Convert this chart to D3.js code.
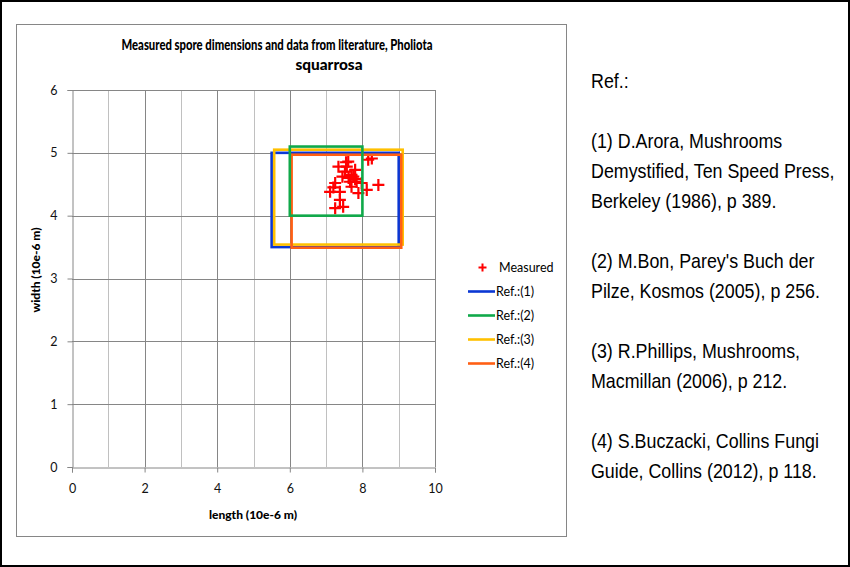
<!DOCTYPE html>
<html>
<head>
<meta charset="utf-8">
<script src="https://cdn.jsdelivr.net/npm/d3@7"></script>
<style>
  body { margin: 0; background: #fff; }
  svg { display: block; }
</style>
</head>
<body>
<script>
// measured spores (length, width in 10e-6 m)
var spLength = [7.34, 7.61, 7.52, 7.57, 7.80, 7.75, 7.84, 7.66, 7.70, 7.98, 7.25, 7.11, 7.38, 7.38,
                7.25, 7.47, 7.89, 8.12, 8.44, 8.16, 8.26, 7.70, 7.62, 7.80, 7.45, 7.20, 7.55];
var spWidth  = [4.78, 4.86, 4.70, 4.78, 4.73, 4.62, 4.54, 4.54, 4.46, 4.52, 4.52, 4.38, 4.38, 4.25,
                4.12, 4.14, 4.36, 4.41, 4.49, 4.89, 4.91, 4.65, 4.60, 4.58, 4.62, 4.45, 4.85];

// literature ranges
var refNames  = ["Ref.:(1)", "Ref.:(2)", "Ref.:(3)", "Ref.:(4)"];
var refLenMin = [5.5, 6.0, 5.57, 6.05];
var refLenMax = [9.0, 8.0, 9.11, 9.07];
var refWidMin = [3.5, 4.0, 3.54, 3.49];
var refWidMax = [5.0, 5.1, 5.05, 4.97];
var refColors = ["#0a37d4", "#10a94a", "#ffc000", "#ff5f14"];

var xTicks = [0, 2, 4, 6, 8, 10];
var yTicks = [0, 1, 2, 3, 4, 5, 6];

var refText = [
  "Ref.:",
  "",
  "(1) D.Arora, Mushrooms",
  "Demystified, Ten Speed Press,",
  "Berkeley (1986), p 389.",
  "",
  "(2) M.Bon, Parey's Buch der",
  "Pilze, Kosmos (2005), p 256.",
  "",
  "(3) R.Phillips, Mushrooms,",
  "Macmillan (2006), p 212.",
  "",
  "(4) S.Buczacki, Collins Fungi",
  "Guide, Collins (2012), p 118."
];

var W = 850, H = 567;
var svg = d3.select("body").append("svg").attr("width", W).attr("height", H);

// outer black border and chart frame
svg.append("rect").attr("x", 1).attr("y", 1).attr("width", W - 2).attr("height", H - 2)
   .attr("fill", "#fff").attr("stroke", "#000").attr("stroke-width", 2);
svg.append("rect").attr("x", 16.5).attr("y", 24.5).attr("width", 550).attr("height", 512)
   .attr("fill", "#fff").attr("stroke", "#868686").attr("stroke-width", 1);

var x = d3.scaleLinear().domain([0, 10]).range([72, 435]);
var y = d3.scaleLinear().domain([0, 6]).range([467, 90]);

var font = "Lato, 'Liberation Sans', sans-serif";

// grid
var grid = svg.append("g");
grid.selectAll("line.v").data(d3.range(1, 11)).enter().append("line")
    .attr("x1", function(d){ return Math.round(x(d)) + 0.5; })
    .attr("x2", function(d){ return Math.round(x(d)) + 0.5; })
    .attr("y1", y(6)).attr("y2", y(0))
    .attr("stroke", function(d){ return d % 2 ? "#c0c0c0" : "#868686"; });
grid.selectAll("line.h").data(d3.range(1, 7)).enter().append("line")
    .attr("x1", x(0)).attr("x2", x(10))
    .attr("y1", function(d){ return Math.round(y(d)) + 0.5; })
    .attr("y2", function(d){ return Math.round(y(d)) + 0.5; })
    .attr("stroke", "#868686");

// axes
var xAxis = d3.axisBottom(x).tickValues(xTicks).tickFormat(d3.format("d")).tickSize(5).tickPadding(12);
var yAxis = d3.axisLeft(y).tickValues(yTicks).tickFormat(d3.format("d")).tickSize(5).tickPadding(10);

var gx = svg.append("g").attr("transform", "translate(0," + (Math.round(y(0)) + 0.5) + ")").call(xAxis);
var gy = svg.append("g").attr("transform", "translate(" + (Math.round(x(0)) + 0.5) + ",0)").call(yAxis);
[gx, gy].forEach(function(g){
  g.select(".domain").attr("stroke", "#868686");
  g.selectAll(".tick line").attr("stroke", "#868686");
  g.selectAll(".tick text").attr("font-family", font).attr("font-size", 12.5).attr("fill", "#111");
});

// measured points (plus markers)
svg.append("g").selectAll("path").data(spLength).enter().append("path")
   .attr("d", function(d, i){
     var cx = x(d), cy = y(spWidth[i]);
     return "M" + (cx - 6) + "," + cy + "h12M" + cx + "," + (cy - 6) + "v12";
   })
   .attr("stroke", "#ff0000").attr("stroke-width", 2.2).attr("fill", "none");

// reference rectangles
var drawOrder = [0, 2, 3, 1];
svg.append("g").selectAll("rect").data(drawOrder).enter().append("rect")
   .attr("x", function(i){ return x(refLenMin[i]); })
   .attr("y", function(i){ return y(refWidMax[i]); })
   .attr("width", function(i){ return x(refLenMax[i]) - x(refLenMin[i]); })
   .attr("height", function(i){ return y(refWidMin[i]) - y(refWidMax[i]); })
   .attr("fill", "none")
   .attr("stroke", function(i){ return refColors[i]; })
   .attr("stroke-width", 2.6);

// title
svg.append("text").attr("x", 277).attr("y", 50).attr("text-anchor", "middle")
   .attr("font-family", font).attr("font-weight", "900").attr("font-size", 14.5)
   .attr("textLength", 311).attr("lengthAdjust", "spacingAndGlyphs")
   .text("Measured spore dimensions and data from literature, Pholiota");
svg.append("text").attr("x", 329).attr("y", 70).attr("text-anchor", "middle")
   .attr("font-family", font).attr("font-weight", "900").attr("font-size", 14.5)
   .attr("textLength", 67).attr("lengthAdjust", "spacingAndGlyphs")
   .text("squarrosa");

// axis titles
svg.append("text").attr("x", 253).attr("y", 519).attr("text-anchor", "middle")
   .attr("font-family", font).attr("font-weight", "900").attr("font-size", 12)
   .text("length (10e-6 m)");
svg.append("text").attr("transform", "translate(40,270) rotate(-90)").attr("text-anchor", "middle")
   .attr("font-family", font).attr("font-weight", "900").attr("font-size", 12)
   .text("width (10e-6 m)");

// legend
var leg = svg.append("g").attr("font-family", font).attr("font-size", 12.5);
leg.append("path").attr("d", "M478.5,267.5h8M482.5,263.5v8")
   .attr("stroke", "#ff0000").attr("stroke-width", 2);
leg.append("text").attr("x", 499).attr("y", 271.5).text("Measured");
var legY = d3.scalePoint().domain(refNames).range([291.5, 363.5]);
refNames.forEach(function(n, i){
  leg.append("line").attr("x1", 468).attr("x2", 495)
     .attr("y1", legY(n)).attr("y2", legY(n))
     .attr("stroke", refColors[i]).attr("stroke-width", 2.6);
  leg.append("text").attr("x", 496).attr("y", legY(n) + 4.5).text(n);
});

// reference text block
var lineY = [88, 118, 148, 178, 208, 238, 268, 298, 328, 358, 388, 418, 448, 478];
svg.append("g").selectAll("text").data(refText).enter().append("text")
   .attr("transform", function(d, i){ return "translate(591," + lineY[i] + ") scale(0.85,1)"; })
   .attr("font-family", "'Liberation Sans', Arial, sans-serif").attr("font-size", 21)
   .attr("fill", "#000")
   .text(function(d){ return d; });
</script>
</body>
</html>
